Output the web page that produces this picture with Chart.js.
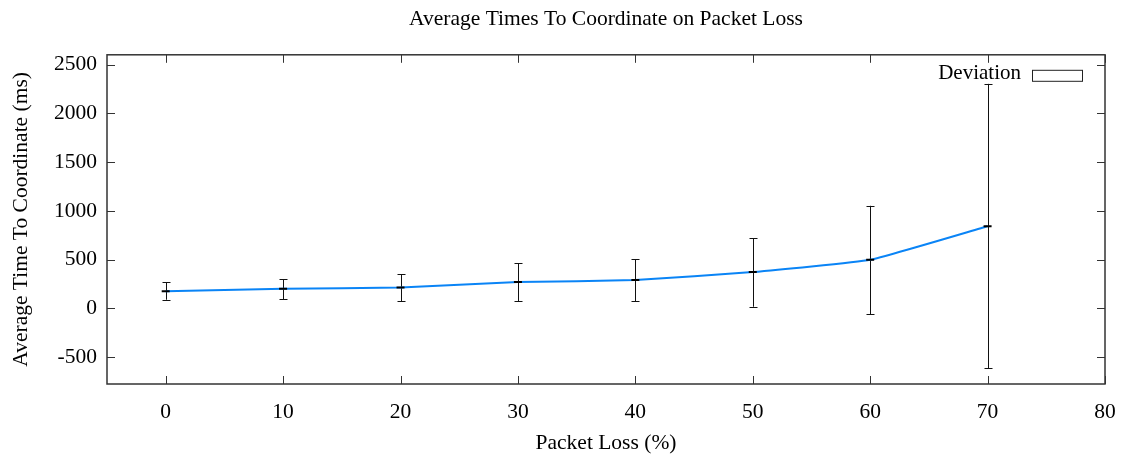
<!DOCTYPE html>
<html>
<head>
<meta charset="utf-8">
<script src="https://cdn.jsdelivr.net/npm/chart.js@4.4.1/dist/chart.umd.min.js"></script>
<style>
html,body{margin:0;padding:0;background:#fff;}
#wrap{width:1123px;height:457px;}
</style>
</head>
<body>
<div id="wrap"><canvas id="c" width="1123" height="457"></canvas></div>
<script>
const title = 'Average Times To Coordinate on Packet Loss';
const xTitle = 'Packet Loss (%)';
const yTitle = 'Average Time To Coordinate (ms)';
const legendLabel = 'Deviation';
const categories = [0, 10, 20, 30, 40, 50, 60, 70];
const means = [177, 202, 215, 270, 290, 372, 499, 843];
const errLow = [89, 95, 72, 72, 72, 17, -58, -615];
const errHigh = [266, 300, 351, 461, 505, 720, 1052, 2302];
const xTicks = [0, 10, 20, 30, 40, 50, 60, 70, 80];
const yTicks = [-500, 0, 500, 1000, 1500, 2000, 2500];
const xRange = [-5, 80];
const yRange = [-775, 2600];

const FONT = "'Liberation Serif', 'DejaVu Serif', serif";
const FS = 21.5;
const axisColor = '#333';

const framePlugin = {
  id: 'frame',
  beforeDatasetsDraw(chart) {
    const ctx = chart.ctx;
    const xs = chart.scales.x, ys = chart.scales.y;
    ctx.save();
    ctx.strokeStyle = '#111';
    ctx.lineWidth = 1;
    for (let i = 0; i < categories.length; i++) {
      const px = Math.round(xs.getPixelForValue(categories[i])) + 0.5;
      const yl = ys.getPixelForValue(errLow[i]);
      const yh = ys.getPixelForValue(errHigh[i]);
      ctx.beginPath();
      ctx.moveTo(px, yl); ctx.lineTo(px, yh);
      ctx.moveTo(px - 4, Math.round(yl) + 0.5); ctx.lineTo(px + 4, Math.round(yl) + 0.5);
      ctx.moveTo(px - 4, Math.round(yh) + 0.5); ctx.lineTo(px + 4, Math.round(yh) + 0.5);
      ctx.stroke();
    }
    ctx.restore();
  },
  afterDraw(chart) {
    const ctx = chart.ctx;
    const a = chart.chartArea;
    const xs = chart.scales.x, ys = chart.scales.y;
    ctx.save();
    ctx.strokeStyle = axisColor;
    ctx.lineWidth = 1.5;
    ctx.strokeRect(a.left, a.top, a.right - a.left, a.bottom - a.top);
    ctx.lineWidth = 1;
    ctx.beginPath();
    const tl = 8;
    ys.ticks.forEach(t => {
      const py = Math.round(ys.getPixelForValue(t.value)) + 0.5;
      ctx.moveTo(a.left, py); ctx.lineTo(a.left + tl, py);
      ctx.moveTo(a.right, py); ctx.lineTo(a.right - tl, py);
    });
    xs.ticks.forEach(t => {
      const px = Math.round(xs.getPixelForValue(t.value)) + 0.5;
      ctx.moveTo(px, a.bottom); ctx.lineTo(px, a.bottom - tl);
      ctx.moveTo(px, a.top); ctx.lineTo(px, a.top + tl);
    });
    ctx.stroke();
    // legend
    ctx.font = '21px ' + FONT;
    ctx.fillStyle = '#000';
    ctx.textAlign = 'right';
    ctx.textBaseline = 'middle';
    ctx.fillText(legendLabel, a.right - 84, a.top + 19);
    ctx.strokeStyle = '#222';
    ctx.lineWidth = 1;
    ctx.strokeRect(a.right - 72.5, a.top + 15.5, 50, 11);
    ctx.restore();
  }
};

new Chart(document.getElementById('c'), {
  type: 'line',
  data: {
    datasets: [{
      label: 'Mean',
      data: categories.map((x, i) => ({x: x, y: means[i]})),
      borderColor: '#0a84f6',
      borderWidth: 2,
      tension: 0.12,
      pointStyle: 'line',
      pointRadius: 4,
      pointBorderWidth: 2,
      pointBorderColor: '#000',
      pointBackgroundColor: '#000',
      fill: false
    }]
  },
  options: {
    responsive: false,
    animation: false,
    layout: {padding: {left: 0, right: 18, top: 0, bottom: 0}},
    plugins: {
      legend: {display: false},
      tooltip: {enabled: false},
      title: {
        display: true,
        fullSize: false,
        text: title,
        color: '#000',
        font: {family: FONT, size: FS, weight: 'normal'},
        padding: {top: 6, bottom: 23}
      }
    },
    scales: {
      x: {
        type: 'linear',
        min: xRange[0], max: xRange[1],
        grid: {display: false},
        border: {display: false},
        afterBuildTicks(s) { s.ticks = xTicks.map(v => ({value: v})); },
        ticks: {color: '#000', padding: 7, font: {family: FONT, size: FS}, maxRotation: 0,
          callback: v => String(v)},
        title: {display: true, text: xTitle, color: '#000',
          font: {family: FONT, size: FS}, padding: {top: 2, bottom: 1}},
        afterFit(s) { s.height = 73; }
      },
      y: {
        type: 'linear',
        min: yRange[0], max: yRange[1],
        grid: {display: false},
        border: {display: false},
        afterBuildTicks(s) { s.ticks = yTicks.map(v => ({value: v})); },
        ticks: {color: '#000', padding: 2, font: {family: FONT, size: FS},
          callback: v => String(v)},
        title: {display: true, text: yTitle, color: '#000',
          font: {family: FONT, size: FS}, padding: {top: 8, bottom: 8}},
        afterFit(s) { s.width = 107; }
      }
    }
  },
  plugins: [framePlugin]
});
</script>
</body>
</html>
